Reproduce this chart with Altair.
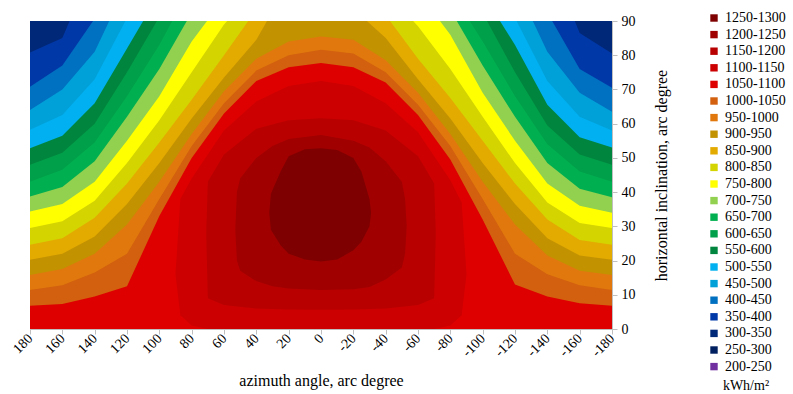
import altair as alt
import pandas as pd

# ---------------- data ----------------
# legend bands (top to bottom) and their colours
BANDS = ["1250-1300", "1200-1250", "1150-1200", "1100-1150", "1050-1100",
         "1000-1050", "950-1000", "900-950", "850-900", "800-850",
         "750-800", "700-750", "650-700", "600-650", "550-600",
         "500-550", "450-500", "400-450", "350-400", "300-350",
         "250-300", "200-250"]
BAND_COLORS = ["#7f0000", "#a00000", "#b80000", "#cc0000", "#de0000",
               "#d2600e", "#e0780e", "#c39200", "#e3aa00", "#d4d400",
               "#ffff00", "#92d050", "#00b050", "#00a04a", "#00853e",
               "#00b0f0", "#00a0d8", "#0070c0", "#0038a8", "#002878",
               "#002060", "#7030a0"]

AZIMUTH_TICKS = [180, 160, 140, 120, 100, 80, 60, 40, 20, 0,
                 -20, -40, -60, -80, -100, -120, -140, -160, -180]
INCLINATION_TICKS = [0, 10, 20, 30, 40, 50, 60, 70, 80, 90]

# iso-lines: [azimuth, inclination] where irradiation falls below the level
ISO_350 = [[180, 80.8], [160, 85], [155.5, 90], [-157, 90], [-160, 86.5], [-180, 80.5]]
ISO_400 = [[180, 70.8], [160, 77], [141, 90], [-143, 90], [-160, 76], [-180, 70.5]]
ISO_450 = [[180, 64], [160, 70], [140, 81], [131, 90], [-131, 90], [-140, 81],
           [-160, 69], [-180, 63.5]]
ISO_500 = [[180, 58.2], [160, 62.5], [140, 73], [121, 90], [-121, 90], [-140, 72.5],
           [-160, 62], [-180, 58]]
ISO_550 = [[180, 52.8], [160, 56.5], [140, 66], [120, 82], [110, 90], [-110.7, 90],
           [-120, 83], [-140, 65.5], [-160, 56], [-180, 53]]
ISO_600 = [[180, 48], [160, 51.5], [140, 60], [120, 75], [101.5, 90], [-102.7, 90],
           [-120, 75], [-140, 59.5], [-160, 51], [-180, 48]]
ISO_650 = [[180, 43], [160, 46.5], [140, 54.5], [120, 68], [100, 83], [92, 90],
           [-92, 90], [-100, 84], [-120, 68], [-140, 54], [-160, 46], [-180, 43]]
ISO_700 = [[180, 38.7], [160, 41.5], [140, 49], [120, 62], [100, 76], [83, 90],
           [-84, 90], [-100, 77], [-120, 62], [-140, 48.5], [-160, 41], [-180, 38.5]]
ISO_750 = [[180, 34.3], [160, 36.5], [140, 43], [120, 55], [100, 68], [80, 84], [70.5, 90],
           [-73.6, 90], [-80, 86], [-100, 69], [-120, 55], [-140, 42.5], [-160, 36],
           [-180, 34]]
ISO_800 = [[180, 29.5], [160, 31.5], [140, 37.5], [120, 48.5], [100, 61], [80, 75], [60, 89],
           [58, 90], [-57, 90], [-60, 88.5], [-80, 76], [-100, 62], [-120, 48.5],
           [-140, 37], [-160, 31], [-180, 29.5]]
ISO_850 = [[180, 24.6], [160, 26.5], [140, 32.5], [120, 42.5], [100, 54.5], [80, 67], [60, 80],
           [45, 90], [-42.7, 90], [-60, 79], [-80, 67.5], [-100, 55], [-120, 42.5],
           [-140, 32], [-160, 26], [-180, 24.6]]
ISO_900 = [[180, 20.2], [160, 22], [140, 27], [120, 36.5], [100, 48.5], [80, 61.5],
           [60, 73.5], [40, 84.5], [33.4, 90], [-28.4, 90], [-40, 85], [-60, 73],
           [-80, 61.5], [-100, 48.5], [-120, 36.5], [-140, 26.5], [-160, 21.5], [-180, 20.2]]
ISO_950 = [[180, 15.8], [160, 17.5], [140, 22], [120, 30.5], [100, 43], [80, 57], [60, 69.5],
           [40, 79], [20, 84], [0, 85.5], [-20, 84.5], [-40, 78.5], [-60, 69],
           [-80, 57], [-100, 43], [-120, 30.5], [-140, 21.5], [-160, 17], [-180, 15.8]]
ISO_1000 = [[180, 11.4], [160, 12.8], [140, 16.5], [120, 22], [100, 38], [80, 53.5],
            [60, 66], [40, 75.5], [20, 80], [0, 81.6], [-20, 80.5], [-40, 75],
            [-60, 65.5], [-80, 53.5], [-100, 38], [-120, 22], [-140, 16], [-160, 12.8],
            [-180, 11.4]]
ISO_1050 = [[180, 6.8], [160, 7.3], [140, 9.5], [120, 12.5], [100, 33], [80, 50],
            [60, 63], [40, 72.5], [20, 76.5], [0, 77.7], [-20, 76.5], [-40, 72],
            [-60, 62.5], [-80, 49.5], [-100, 32], [-120, 13], [-140, 9.5], [-160, 7.5],
            [-180, 6.8]]

# closed zones around the maximum: [azimuth, lower inclination, upper inclination]
RING_1100 = [[90, 16, 16], [87, 4, 38], [80, 1, 44], [70, 0, 51], [60, 0, 58],
             [40, 0, 66.5], [20, 0, 71], [0, 0, 72.5], [-20, 0, 71], [-40, 0, 66],
             [-60, 0, 57.5], [-70, 0, 50.5], [-80, 1, 43.5], [-87, 4, 37], [-90, 16, 16]]
RING_1150 = [[71, 28, 28], [70, 9, 43], [60, 7, 51], [40, 6, 58.5], [20, 5.7, 61],
             [0, 5.6, 61.6], [-20, 5.7, 61], [-40, 6, 58], [-60, 7, 50.5],
             [-70, 9, 42.5], [-71, 28, 28]]
RING_1200 = [[53, 29, 29], [52, 20, 40], [50, 17, 44], [40, 14, 50], [30, 12.5, 53.5],
             [20, 11.8, 55.5], [0, 11.4, 56.7], [-20, 11.6, 55], [-30, 12.3, 53],
             [-40, 14.5, 49], [-50, 18, 43], [-52, 22, 38], [-53, 30, 30]]
RING_1250 = [[32, 34, 34], [31, 29, 39.5], [25, 24.5, 46], [20, 22, 50.5],
             [10, 20.3, 52.5], [0, 19.7, 52.8], [-10, 20.3, 52.3], [-20, 23, 50],
             [-25, 25.5, 46], [-30, 30, 38], [-31, 34, 34]]

# ---------------- chart ----------------
SERIF = "Liberation Serif"


def band_of(level):
    return f"{level}-{level + 50}"


def iso_frame(points, level):
    return pd.DataFrame({"az": [p[0] for p in points],
                         "lo": [0.0] * len(points),
                         "hi": [p[1] for p in points],
                         "band": band_of(level)})


def ring_frame(points, level):
    return pd.DataFrame({"az": [p[0] for p in points],
                         "lo": [p[1] for p in points],
                         "hi": [p[2] for p in points],
                         "band": band_of(level)})


x_axis = alt.Axis(values=AZIMUTH_TICKS, labelAngle=-45, labelAlign="right",
                  labelBaseline="middle", labelFont=SERIF, labelFontSize=14,
                  labelColor="black", labelPadding=2,
                  labelExpr="'' + datum.value",
                  title="azimuth  angle, arc degree", titleFont=SERIF,
                  titleFontSize=16, titleFontWeight="normal", titleColor="black",
                  titlePadding=13, grid=False, domainColor="#bfbfbf",
                  tickColor="#bfbfbf", tickSize=5)
y_axis = alt.Axis(orient="right", values=INCLINATION_TICKS, labelFont=SERIF,
                  labelFontSize=14, labelColor="black", labelPadding=4,
                  title="horizontal inclination,  arc degree", titleFont=SERIF,
                  titleFontSize=16, titleFontWeight="normal", titleColor="black",
                  titleAngle=270, titlePadding=34, grid=False,
                  domainColor="#bfbfbf", tickColor="#bfbfbf", tickSize=5)
legend = alt.Legend(orient="none", legendX=677, legendY=-10, title="kWh/m²",
                    titleOrient="bottom", titleAnchor="middle", titleFont=SERIF,
                    titleFontSize=14, titleFontWeight="normal", titleColor="black",
                    labelFont=SERIF, labelFontSize=14, labelColor="black",
                    symbolType="square", symbolSize=55, symbolStrokeWidth=0,
                    symbolOpacity=1, rowPadding=2.6, labelOffset=4, padding=0,
                    symbolLimit=40)

x_enc = alt.X("az:Q", scale=alt.Scale(domain=[180, -180], nice=False, zero=False),
              axis=x_axis)
y_enc = alt.Y("hi:Q", scale=alt.Scale(domain=[0, 90], nice=False, zero=False),
              axis=y_axis, stack=None)
c_enc = alt.Color("band:N", scale=alt.Scale(domain=BANDS, range=BAND_COLORS),
                  legend=legend, sort=BANDS)


def area_layer(df):
    return alt.Chart(df).mark_area(interpolate="linear", clip=True, opacity=1,
                                   strokeWidth=0).encode(
        x=x_enc, y=y_enc, y2="lo:Q", color=c_enc)


frames = [iso_frame([[a, 90] for a in AZIMUTH_TICKS], 300)]
for lvl, pts in [(350, ISO_350), (400, ISO_400), (450, ISO_450), (500, ISO_500),
                 (550, ISO_550), (600, ISO_600), (650, ISO_650), (700, ISO_700),
                 (750, ISO_750), (800, ISO_800), (850, ISO_850), (900, ISO_900),
                 (950, ISO_950), (1000, ISO_1000), (1050, ISO_1050)]:
    frames.append(iso_frame(pts, lvl))
for lvl, pts in [(1100, RING_1100), (1150, RING_1150), (1200, RING_1200),
                 (1250, RING_1250)]:
    frames.append(ring_frame(pts, lvl))

chart = alt.layer(*[area_layer(f) for f in frames]).properties(
    width=582, height=308,
    padding={"left": 30, "top": 21, "right": 181, "bottom": 65},
    autosize="none",
    background="white",
).configure_view(stroke="#bfbfbf", strokeWidth=1)

chart.save("out.html", embed_options={"renderer": "svg", "actions": False})
